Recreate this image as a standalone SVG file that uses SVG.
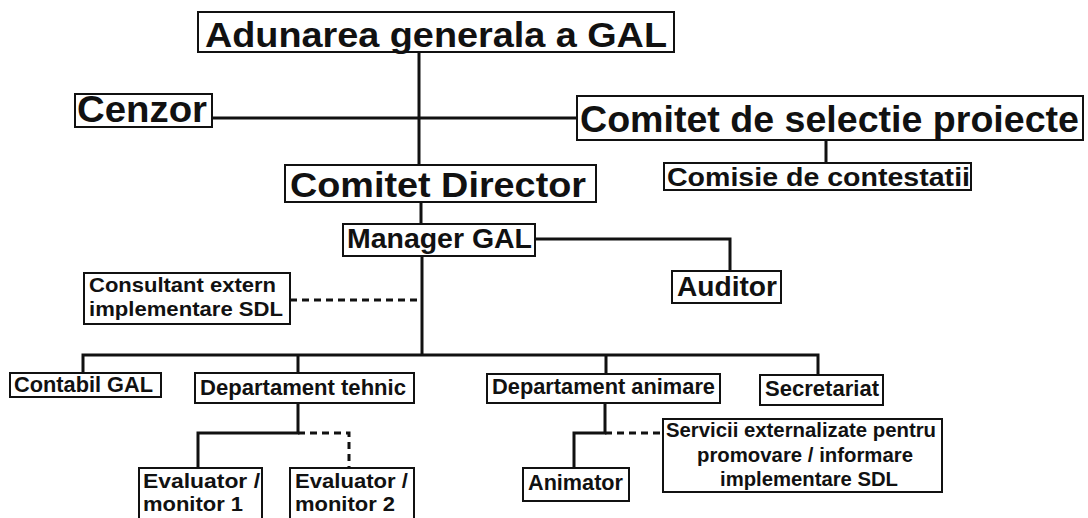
<svg xmlns="http://www.w3.org/2000/svg" width="1088" height="518" viewBox="0 0 1088 518">
<style>
.box{fill:#fff;stroke:#111;stroke-width:2}
.t{font-family:"Liberation Sans",Arial,sans-serif;font-weight:bold;fill:#111}
.ln{fill:none;stroke:#111;stroke-width:3}
.dl{fill:none;stroke:#111;stroke-width:3;stroke-dasharray:7 5}
</style>
<rect width="1088" height="518" fill="#fff"/>
<g id="connectors">
<path class="ln" d="M419,52V165"/>
<path class="ln" d="M212,118H577"/>
<path class="ln" d="M826,140V163"/>
<path class="ln" d="M421,202V224"/>
<path class="ln" d="M535,239H730V271"/>
<path class="ln" d="M422,256V355"/>
<path class="dl" d="M290,300H422"/>
<path class="ln" d="M83,373V355H818V375M298,355V373M606,355V374"/>
<path class="ln" d="M298,403V433H198V468"/>
<path class="dl" stroke-dasharray="6 4" d="M298,433H349V468"/>
<path class="ln" d="M605,403V433H574V468"/>
<path class="dl" d="M605,433H663"/>
</g>
<g id="adunarea"><rect class="box" x="198" y="12" width="476" height="40"/><text class="t" x="205" y="47" font-size="35" textLength="462" lengthAdjust="spacingAndGlyphs">Adunarea generala a GAL</text></g>
<g id="cenzor"><rect class="box" x="75" y="94" width="137" height="33"/><text class="t" x="77" y="122" font-size="36" textLength="130" lengthAdjust="spacingAndGlyphs">Cenzor</text></g>
<g id="comitet-selectie"><rect class="box" x="577" y="96" width="506" height="44"/><text class="t" x="580" y="132" font-size="37" textLength="499" lengthAdjust="spacingAndGlyphs">Comitet de selectie proiecte</text></g>
<g id="comisie"><rect class="box" x="664" y="163" width="307" height="27"/><text class="t" x="667" y="186" font-size="26" textLength="303" lengthAdjust="spacingAndGlyphs">Comisie de contestatii</text></g>
<g id="comitet-director"><rect class="box" x="285" y="165" width="311" height="37"/><text class="t" x="290" y="197" font-size="35" textLength="296" lengthAdjust="spacingAndGlyphs">Comitet Director</text></g>
<g id="manager"><rect class="box" x="343" y="224" width="192" height="32"/><text class="t" x="347" y="248" font-size="28" textLength="185" lengthAdjust="spacingAndGlyphs">Manager GAL</text></g>
<g id="auditor"><rect class="box" x="672" y="271" width="109" height="32"/><text class="t" x="677" y="296" font-size="28" textLength="100" lengthAdjust="spacingAndGlyphs">Auditor</text></g>
<g id="consultant"><rect class="box" x="84" y="273" width="206" height="51"/><text class="t" x="89" y="292" font-size="21" textLength="187" lengthAdjust="spacingAndGlyphs">Consultant extern</text><text class="t" x="89" y="316" font-size="21" textLength="194" lengthAdjust="spacingAndGlyphs">implementare SDL</text></g>
<g id="contabil"><rect class="box" x="10" y="373" width="151" height="24"/><text class="t" x="14" y="392" font-size="22" textLength="139" lengthAdjust="spacingAndGlyphs">Contabil GAL</text></g>
<g id="dep-tehnic"><rect class="box" x="195" y="373" width="219" height="30"/><text class="t" x="200" y="395" font-size="22" textLength="206" lengthAdjust="spacingAndGlyphs">Departament tehnic</text></g>
<g id="dep-animare"><rect class="box" x="487" y="374" width="233" height="29"/><text class="t" x="492" y="394" font-size="22" textLength="223" lengthAdjust="spacingAndGlyphs">Departament animare</text></g>
<g id="secretariat"><rect class="box" x="760" y="375" width="123" height="30"/><text class="t" x="765" y="396" font-size="22" textLength="114" lengthAdjust="spacingAndGlyphs">Secretariat</text></g>
<g id="evaluator1"><rect class="box" x="139" y="468" width="123" height="62"/><text class="t" x="143" y="488" font-size="20" textLength="117" lengthAdjust="spacingAndGlyphs">Evaluator /</text><text class="t" x="143" y="511" font-size="20" textLength="100" lengthAdjust="spacingAndGlyphs">monitor 1</text></g>
<g id="evaluator2"><rect class="box" x="290" y="468" width="124" height="62"/><text class="t" x="295" y="488" font-size="20" textLength="113" lengthAdjust="spacingAndGlyphs">Evaluator /</text><text class="t" x="295" y="511" font-size="20" textLength="100" lengthAdjust="spacingAndGlyphs">monitor 2</text></g>
<g id="animator"><rect class="box" x="523" y="468" width="106" height="33"/><text class="t" x="528" y="490" font-size="22" textLength="95" lengthAdjust="spacingAndGlyphs">Animator</text></g>
<g id="servicii"><rect class="box" x="663" y="419" width="279" height="73"/><text class="t" x="666" y="437" font-size="20" textLength="270" lengthAdjust="spacingAndGlyphs">Servicii externalizate pentru</text><text class="t" x="697" y="462" font-size="20" textLength="216" lengthAdjust="spacingAndGlyphs">promovare / informare</text><text class="t" x="720" y="486" font-size="20" textLength="178" lengthAdjust="spacingAndGlyphs">implementare SDL</text></g>
</svg>
